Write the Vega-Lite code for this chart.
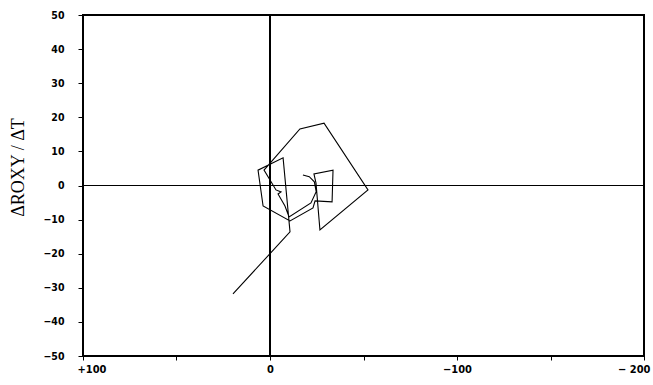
{
  "$schema": "https://vega.github.io/schema/vega-lite/v6.json",
  "width": 561,
  "height": 341,
  "autosize": "none",
  "padding": {"left": 83, "top": 15, "right": 9, "bottom": 29},
  "background": "white",
  "config": {
    "view": {"stroke": "black", "strokeWidth": 2},
    "axis": {
      "grid": false,
      "domain": false,
      "tickColor": "black",
      "labelColor": "black",
      "labelOverlap": false,
      "labelFont": "Liberation Sans Narrow, DejaVu Sans Condensed, sans-serif",
      "labelFontWeight": "bold"
    }
  },
  "data": {
    "values": [
      {"step": 1, "x": -17.6, "y": 3.1},
      {"step": 2, "x": -21.0, "y": 2.6},
      {"step": 3, "x": -23.7, "y": 1.1},
      {"step": 4, "x": -24.7, "y": -1.8},
      {"step": 5, "x": -21.9, "y": -5.1},
      {"step": 6, "x": -10.2, "y": -9.2},
      {"step": 7, "x": -8.0, "y": -6.0},
      {"step": 8, "x": -4.3, "y": -2.5},
      {"step": 9, "x": -5.9, "y": -1.9},
      {"step": 10, "x": -3.2, "y": -1.3},
      {"step": 11, "x": 3.2, "y": 4.5},
      {"step": 12, "x": -16.0, "y": 16.6},
      {"step": 13, "x": -28.9, "y": 18.3},
      {"step": 14, "x": -52.4, "y": -1.3},
      {"step": 15, "x": -26.7, "y": -13.0},
      {"step": 16, "x": -24.6, "y": 0.7},
      {"step": 17, "x": -23.5, "y": 3.4},
      {"step": 18, "x": -33.7, "y": 4.5},
      {"step": 19, "x": -33.2, "y": -4.8},
      {"step": 20, "x": -24.1, "y": -4.5},
      {"step": 21, "x": -23.0, "y": -6.6},
      {"step": 22, "x": -10.7, "y": -10.4},
      {"step": 23, "x": 3.7, "y": -6.0},
      {"step": 24, "x": 6.4, "y": 4.5},
      {"step": 25, "x": -7.0, "y": 8.1},
      {"step": 26, "x": -10.7, "y": -13.6},
      {"step": 27, "x": 19.8, "y": -31.8}
    ]
  },
  "encoding": {
    "x": {
      "field": "x",
      "type": "quantitative",
      "scale": {"domain": [-200, 100], "reverse": true, "nice": false, "zero": false},
      "axis": {
        "title": null,
        "values": [100, 50, 0, -50, -100, -150, -200],
        "tickSize": 4,
        "tickWidth": 1,
        "labelPadding": 3,
        "labelFontSize": 11,
        "labelOverlap": false,
        "labelFlush": true,
        "labelFlushOffset": 6,
        "labelExpr": "datum.value == 100 ? '+100' : datum.value == 0 ? '0' : datum.value == -100 ? '−100' : datum.value == -200 ? '− 200' : ''"
      }
    },
    "y": {
      "field": "y",
      "type": "quantitative",
      "scale": {"domain": [-50, 50], "nice": false},
      "axis": {
        "title": "ΔROXY / ΔT",
        "titleFont": "Liberation Serif",
        "titleFontSize": 18,
        "titleFontWeight": "normal",
        "titleColor": "black",
        "titleAngle": -90,
        "titleX": -60,
        "titleY": 152,
        "titleAlign": "center",
        "titleBaseline": "alphabetic",
        "values": [-50, -40, -30, -20, -10, 0, 10, 20, 30, 40, 50],
        "tickSize": 5,
        "tickWidth": 1,
        "labelPadding": 14,
        "labelFontSize": 10.5,
        "labelOverlap": false,
        "labelFlush": false,
        "format": "d"
      }
    }
  },
  "layer": [
    {
      "mark": {"type": "rule", "color": "black", "strokeWidth": 1.2},
      "encoding": {"x": {"datum": 0}, "y": {"datum": -50}, "y2": {"datum": 50}}
    },
    {
      "mark": {"type": "rule", "color": "black", "strokeWidth": 1},
      "encoding": {"y": {"datum": 0}, "x": {"datum": 100}, "x2": {"datum": -200}}
    },
    {
      "mark": {"type": "line", "color": "black", "strokeWidth": 1.1},
      "encoding": {"order": {"field": "step", "type": "quantitative"}}
    }
  ]
}
